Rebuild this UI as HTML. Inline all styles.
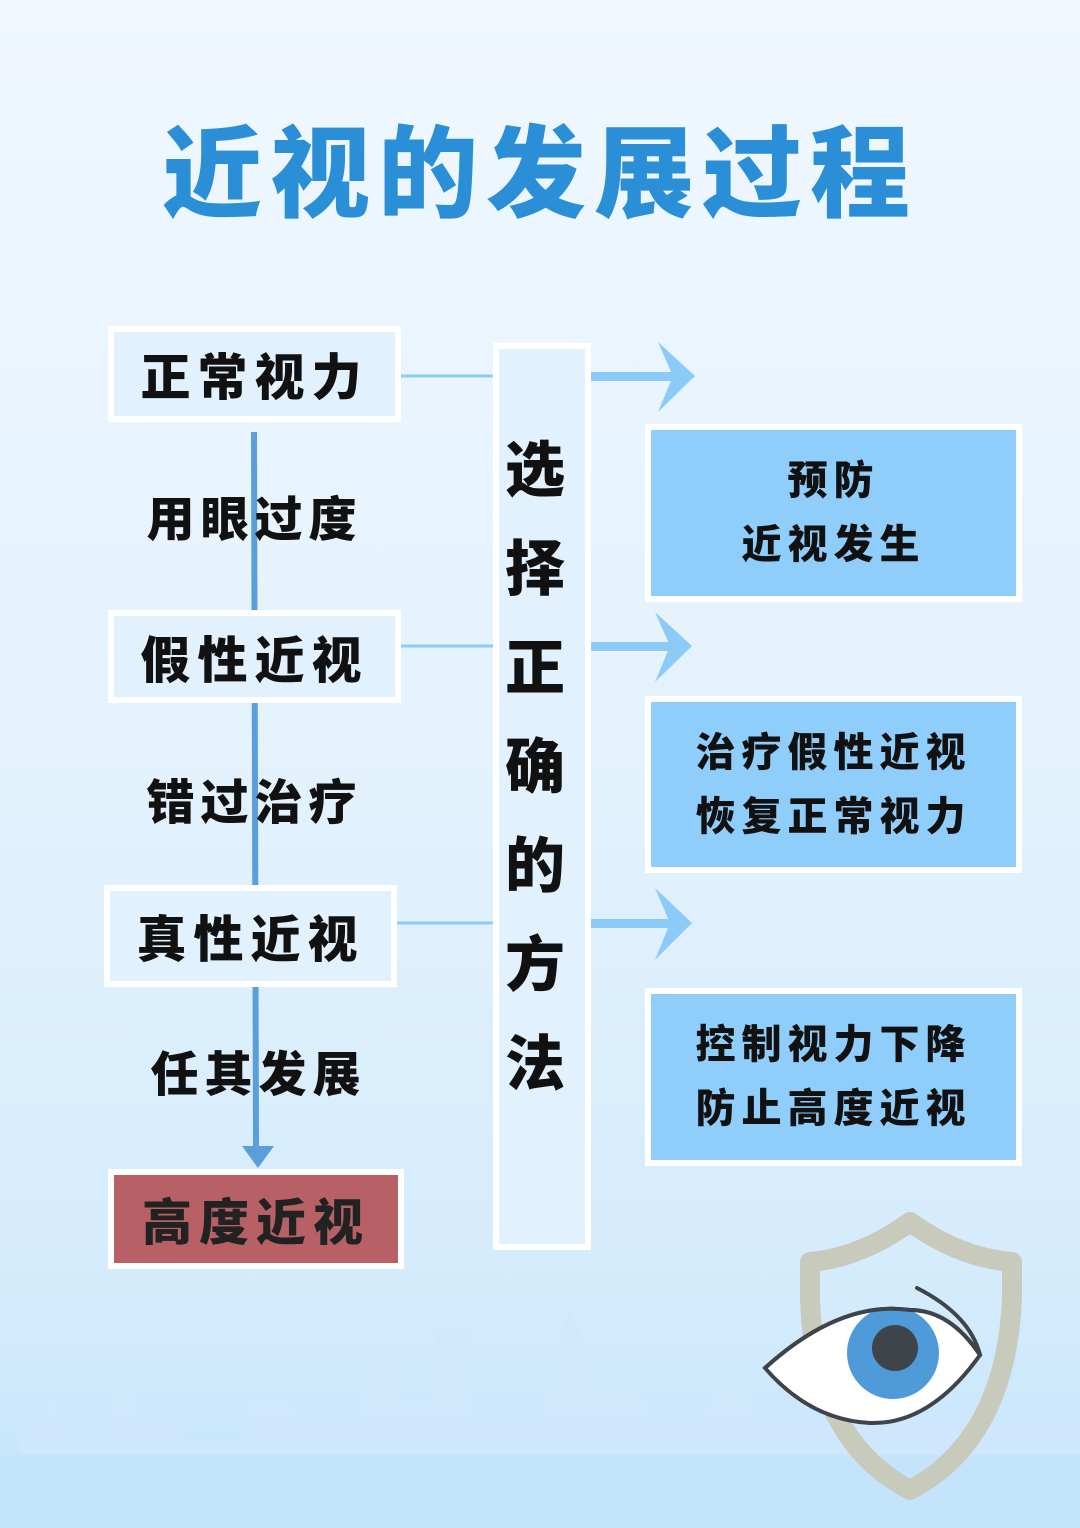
<!DOCTYPE html>
<html><head><meta charset="utf-8"><style>
*{margin:0;padding:0;box-sizing:border-box}
body{width:1080px;height:1528px;position:relative;overflow:hidden;font-family:"Liberation Sans","Noto Sans CJK SC",sans-serif;background:linear-gradient(#f0f7fe 0%,#e3f2fd 50%,#d4ebfc 85%,#c4e4fb 100%)}
.a{position:absolute}
.t{font-weight:900;color:#111;text-align:center;display:flex;align-items:center;justify-content:center}
.lb{border:6px solid #fff;background:#e1f1fd;font-size:50px;letter-spacing:7px}
.rb{border:6px solid #fff;background:#8fcdfb;font-size:40px;letter-spacing:6px;flex-direction:column;line-height:64px}
.lab{font-size:48px;letter-spacing:6px;font-weight:900;color:#111;text-align:center}
</style></head><body>
<svg class="a" style="left:0;top:0" width="1080" height="1528">
<g fill="#cfe7fb" opacity="0.8">
<path d="M20 1528 L20 1430 L40 1420 L45 1400 L60 1398 L65 1430 L110 1430 L115 1380 L135 1375 L140 1420 L175 1420 L180 1440 L240 1440 L245 1400 L290 1400 L300 1420 L360 1420 L365 1360 L400 1355 L405 1400 L430 1400 L435 1330 L470 1330 L475 1420 L540 1420 L545 1380 L570 1310 L600 1380 L640 1380 L650 1420 L700 1420 L720 1380 L740 1370 L760 1420 L1080 1420 L1080 1528Z"/>
</g>
<rect x="0" y="1455" width="1080" height="73" fill="#c4e4fb"/>
<line x1="254" y1="432" x2="256" y2="1150" stroke="#5a9fdc" stroke-width="6"/>
<path d="M242 1146 L258 1168 L274 1146 Z" fill="#5a9fdc"/>
<g stroke="#8ccbf8" stroke-width="3"><line x1="401" y1="376" x2="493" y2="376"/><line x1="401" y1="646" x2="493" y2="646"/><line x1="397" y1="923" x2="493" y2="923"/></g>
<g fill="#8ccbf8">
<rect x="591" y="372" width="88" height="9"/><path d="M658 342 L695 376 L658 412 L673 376Z"/>
<rect x="591" y="642" width="85" height="9"/><path d="M655 612 L692 646 L655 682 L670 646Z"/>
<rect x="591" y="919" width="85" height="9"/><path d="M655 888 L692 923 L655 960 L670 923Z"/>
</g>
<path d="M910 1222 Q860 1258 810 1262 L810 1300 Q815 1440 910 1490 Q1005 1440 1012 1300 L1012 1262 Q960 1258 910 1222Z" fill="none" stroke="#c8cabc" stroke-width="20" stroke-linejoin="round"/>
<path d="M765 1368 Q840 1300 910 1310 Q950 1310 980 1355 Q930 1425 870 1423 Q810 1420 765 1368Z" fill="#fff" stroke="#3f434a" stroke-width="4"/>
<circle cx="893" cy="1353" r="46" fill="#4f9bd9"/>
<circle cx="895" cy="1348" r="23" fill="#3f434a"/>
<path d="M765 1368 Q840 1300 910 1310 Q950 1310 980 1355" fill="none" stroke="#3f434a" stroke-width="4"/>
<path d="M917 1288 Q970 1315 980 1355" fill="none" stroke="#3f434a" stroke-width="4" stroke-linecap="round"/>
</svg>
<div class="a" style="left:0;top:93px;width:1080px;text-align:center;font-size:100px;font-weight:900;color:#2a8fd6;letter-spacing:8px">近视的发展过程</div>
<div class="a t lb" style="left:108px;top:326px;width:293px;height:96px">正常视力</div>
<div class="a lab" style="left:108px;top:480px;width:293px">用眼过度</div>
<div class="a t lb" style="left:108px;top:610px;width:293px;height:93px">假性近视</div>
<div class="a lab" style="left:108px;top:763px;width:293px">错过治疗</div>
<div class="a t lb" style="left:104px;top:885px;width:293px;height:102px">真性近视</div>
<div class="a lab" style="left:112px;top:1035px;width:293px">任其发展</div>
<div class="a t lb" style="left:108px;top:1169px;width:296px;height:100px;background:#b76166;color:#222">高度近视</div>
<div class="a" style="left:493px;top:343px;width:98px;height:907px;border:6px solid #fff;background:#e1f1fd"></div>
<div class="a" style="left:493px;top:421px;width:84px;font-size:60px;font-weight:900;color:#111;text-align:center;line-height:99px">选<br>择<br>正<br>确<br>的<br>方<br>法</div>
<div class="a t rb" style="left:645px;top:424px;width:377px;height:178px"><div>预防</div><div>近视发生</div></div>
<div class="a t rb" style="left:645px;top:696px;width:377px;height:177px"><div>治疗假性近视</div><div>恢复正常视力</div></div>
<div class="a t rb" style="left:645px;top:988px;width:377px;height:178px"><div>控制视力下降</div><div>防止高度近视</div></div>
</body></html>
